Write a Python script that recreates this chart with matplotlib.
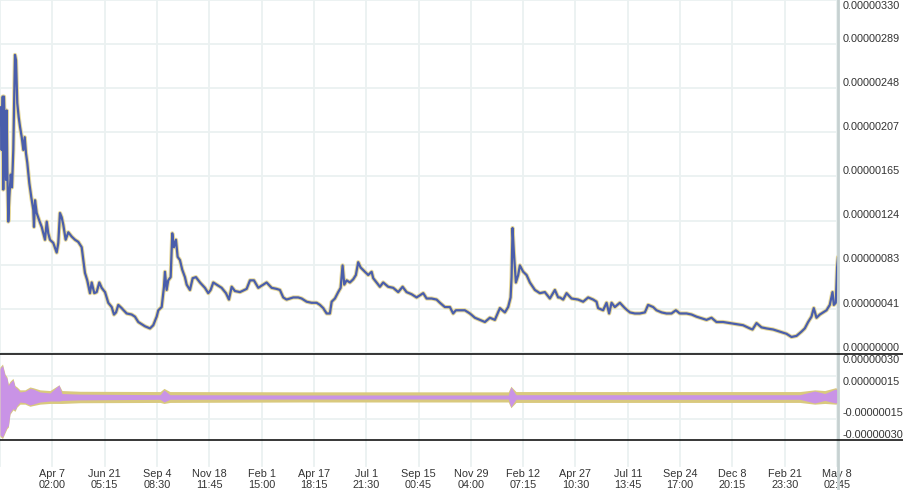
import datetime as dt
import matplotlib
matplotlib.use('Agg')
import matplotlib.pyplot as plt
from matplotlib.lines import Line2D

plt.rcParams['font.family'] = ['Liberation Sans', 'DejaVu Sans']

######################################################
# data
######################################################
START = dt.datetime(2018, 1, 21, 22, 45)
STEP = dt.timedelta(days=75, hours=3, minutes=15)

# price: days since START, value in 1e-8
PRICE_DAYS = [
    1.0, 2.4, 3.9, 4.7, 5.7, 7.2, 8.6, 9.6, 10.5, 11.9,
    13.4, 15.4, 17.2, 19.1, 21.5, 23.0, 24.8, 26.8, 28.7, 31.2,
    33.5, 35.5, 37.3, 39.2, 42.1, 44.9, 47.8, 48.8, 50.3, 52.7,
    56.4, 59.9, 64.6, 67.1, 69.3, 71.8, 76.5, 81.4, 83.7, 86.1,
    88.6, 90.9, 94.3, 98.1, 102.9, 107.7, 112.4, 117.3, 119.6, 122.0,
    125.3, 129.2, 131.7, 135.4, 138.8, 142.6, 146.0, 150.8, 155.5, 160.4,
    163.7, 166.6, 169.9, 174.7, 181.9, 189.1, 193.8, 198.6, 201.0, 208.2,
    215.4, 220.1, 225.0, 227.3, 232.2, 235.5, 236.9, 239.3, 241.6, 245.1,
    247.4, 249.8, 252.7, 255.1, 258.4, 261.7, 265.6, 268.1, 272.8, 276.7,
    281.4, 287.2, 294.3, 299.1, 302.5, 306.3, 311.1, 318.3, 324.5, 328.8,
    332.7, 337.4, 344.6, 354.2, 359.0, 364.7, 370.9, 378.0, 382.9, 390.1,
    397.3, 402.0, 406.8, 411.6, 416.4, 421.1, 428.3, 433.2, 440.4, 447.5,
    454.7, 459.5, 464.2, 469.1, 473.8, 476.3, 481.0, 485.7, 489.2, 492.0,
    494.4, 497.8, 502.5, 507.3, 511.1, 514.4, 517.9, 524.1, 528.8, 533.7,
    536.0, 540.9, 545.6, 550.3, 557.5, 564.7, 571.9, 578.2, 583.9, 591.1,
    598.3, 603.0, 607.8, 612.7, 619.8, 627.0, 631.8, 638.9, 646.1,
    650.8, 654.7, 660.5, 667.6, 674.8, 682.0, 689.2, 696.4, 703.5, 710.7,
    717.9, 725.1, 729.8, 733.3, 734.7, 736.1, 738.0, 740.9, 744.2, 746.6,
    751.4, 756.2, 761.0, 768.2, 775.3, 782.5, 789.7, 796.9, 801.6, 804.0,
    808.8, 813.7, 820.8, 830.3, 837.5, 844.7, 851.9, 856.7, 859.0, 866.2,
    871.1, 874.8, 878.3, 883.0, 890.2, 897.4, 904.6, 911.7, 918.9, 926.1,
    930.8, 938.0, 942.9, 950.1, 957.2, 964.4, 970.6, 976.3, 986.0, 993.2,
    1000.3, 1005.1, 1014.7, 1021.8, 1029.0, 1038.5, 1048.1, 1057.7, 1067.2, 1076.9,
    1080.7, 1086.5, 1093.6, 1100.8, 1110.3, 1119.9, 1129.5, 1136.7, 1143.9, 1151.1,
    1155.8, 1160.6, 1165.4, 1168.7, 1172.6, 1177.4, 1182.1, 1187.0, 1191.7, 1195.6,
    1197.5, 1200.3, 1202.2, 1203.4]
PRICE_E8 = [
    230, 190, 240, 153, 240, 199, 162, 227, 174, 123,
    146, 167, 155, 190, 279, 274, 234, 221, 212, 202,
    190, 202, 187, 178, 159, 146, 134, 118, 143, 131,
    124, 118, 106, 123, 112, 106, 103, 94, 103, 131,
    127, 120, 106, 113, 109, 106, 104, 99, 87, 75,
    68, 56, 66, 56, 57, 66, 61, 57, 47, 43,
    36, 38, 45, 42, 37, 36, 34, 29, 28, 25,
    23, 26, 34, 40, 43, 62, 76, 59, 68, 71,
    112, 99, 106, 90, 87, 78, 71, 64, 59, 70,
    71, 66, 61, 56, 59, 66, 64, 61, 56, 50,
    62, 58, 57, 60, 68, 68, 61, 64, 66, 61,
    60, 59, 52, 50, 51, 52, 52, 51, 48, 47,
    47, 45, 42, 37, 37, 48, 51, 57, 61, 82,
    64, 68, 66, 69, 73, 85, 80, 76, 73, 76,
    70, 66, 62, 66, 62, 61, 57, 62, 57, 55,
    52, 54, 56, 51, 51, 50, 47, 43, 43,
    37, 40, 40, 40, 37, 33, 31, 29, 33, 31,
    42, 38, 43, 52, 71, 117, 94, 66, 73, 82,
    76, 73, 66, 59, 56, 57, 51, 59, 52, 52,
    50, 56, 51, 50, 48, 52, 50, 48, 42, 40,
    47, 37, 47, 43, 47, 42, 38, 37, 37, 38,
    45, 43, 40, 38, 37, 37, 40, 37, 37, 36,
    34, 33, 31, 33, 29, 29, 28, 27, 26, 23,
    22, 28, 24, 23, 22, 20, 18, 15, 16, 20,
    23, 29, 34, 42, 33, 36, 38, 40, 45, 57,
    45, 47, 80, 89]

# oscillator envelopes (1e-8)
OSC_DAYS = [0, 3.6, 7.2, 10, 12, 14.4, 18.7, 21.5, 24.4, 28.7,
            35.9, 43, 47.4, 57.4, 71.8, 84.7, 89, 115, 230, 235.5,
            244, 431, 730, 733.7, 741, 1148.6, 1170, 1184.5, 1200, 1203.4]
PURPLE_HI = [20, 22, 15, 13, 8, 10, 12, 7, 6, 3.5,
             4, 6, 5.6, 3.5, 2.8, 8.4, 2.4, 2.0, 1.6, 5,
             1.6, 1.4, 1.4, 7, 1.6, 1.6, 4.2, 2.4, 5.6, 4.2]
PURPLE_LO = [-26.5, -28, -24, -21, -20, -11, -8, -9, -6, -3.5,
             -4, -5.6, -5, -3.5, -2.8, -2.8, -2.4, -2.0, -1.6, -3.5,
             -1.6, -1.4, -1.4, -7, -1.6, -1.6, -4.2, -2.4, -4.2, -3.5]
YELLOW_HI = [21, 23, 16, 14, 9, 11, 13, 8, 7, 5,
             5, 7, 6.5, 5, 4.5, 8.5, 4.5, 4, 3.8, 6,
             3.8, 3.6, 3.6, 7.5, 3.8, 3.8, 5, 4.5, 6.5, 5.5]
YELLOW_LO = [-27.5, -29, -25, -22, -21, -12, -9, -10, -7, -5,
             -5, -6.5, -6, -5, -4.5, -4.5, -4.5, -4, -3.8, -4.5,
             -3.8, -3.5, -3.5, -7.5, -3.8, -3.8, -5, -4.5, -5, -4.5]

MAIN_TICKS_E8 = [0, 41.3, 82.6, 123.9, 165.2, 206.5, 247.8, 289.1, 330.4]
MAIN_LABELS = ['0.00000000', '0.00000041', '0.00000083', '0.00000124', '0.00000165',
               '0.00000207', '0.00000248', '0.00000289', '0.00000330']
LOW_TICKS_E8 = [30, 15, -15, -30]
LOW_LABELS = ['0.00000030', '0.00000015', '-0.00000015', '-0.00000030']

XDATES = ['Apr 7', 'Jun 21', 'Sep 4', 'Nov 18', 'Feb 1', 'Apr 17', 'Jul 1', 'Sep 15',
          'Nov 29', 'Feb 12', 'Apr 27', 'Jul 11', 'Sep 24', 'Dec 8', 'Feb 21', 'May 8']
XTIMES = ['02:00', '05:15', '08:30', '11:45', '15:00', '18:15', '21:30', '00:45',
          '04:00', '07:15', '10:30', '13:45', '17:00', '20:15', '23:30', '02:45']

######################################################
# plot
######################################################
BLUE = '#4a5eab'
YELLOW = '#e6d89a'
YELLOW2 = '#d9c97e'
PURPLE = '#c993e6'
GRID = '#ebf1f1'
TXT = '#333333'
FS = 7.8

W, H = 904, 490
def fx(px):
    return px / W
def fy(py):
    return 1 - py / H

def to_dates(days):
    return [START + dt.timedelta(days=d) for d in days]

x_lo = START
x_hi = START + dt.timedelta(days=1203.5)
ticks = [START + k * STEP for k in range(17)]

fig = plt.figure(figsize=(W / 100, H / 100), dpi=100)
fig.patch.set_facecolor('white')

# background axes for the vertical grid
bg = fig.add_axes([0, 0, fx(838), 1])
bg.set_xlim(x_lo, x_hi)
bg.set_ylim(0, 1)
bg.axis('off')
for t in ticks:
    bg.plot([t, t], [fy(466), 1], color=GRID, lw=1.3, zorder=0)

# main price panel
ax = fig.add_axes([0, fy(354), fx(838), 354 / H])
ax.set_facecolor('none')
ax.set_xlim(x_lo, x_hi)
ax.set_ylim(-0.94e-8, 330.4e-8)
ax.set_yticks([v * 1e-8 for v in MAIN_TICKS_E8])
ax.set_xticks([])
ax.yaxis.grid(True, color=GRID, lw=1.3)
ax.tick_params(length=0, labelleft=False)
for s in ax.spines.values():
    s.set_visible(False)

pd_ = to_dates(PRICE_DAYS)
pv = [v * 1e-8 for v in PRICE_E8]
ax.plot(pd_, pv, color=YELLOW, lw=3.0, solid_joinstyle='round', zorder=3)
ax.plot(pd_, pv, color=BLUE, lw=1.6, solid_joinstyle='round', zorder=4)

for v, lab in zip(MAIN_TICKS_E8, MAIN_LABELS):
    if lab == '0.00000330':
        off = -6.8
    else:
        off = 1.7
    ax.annotate(lab, xy=(1, v * 1e-8), xycoords=('axes fraction', 'data'),
                xytext=(3.6, off), textcoords='offset points', va='baseline',
                ha='left', fontsize=FS, color=TXT, annotation_clip=False)

# oscillator panel
lo = fig.add_axes([0, fy(440), fx(838), 86 / H])
lo.set_facecolor('none')
lo.set_xlim(x_lo, x_hi)
lo.set_ylim(-30e-8, 30e-8)
lo.set_yticks([-15e-8, 15e-8])
lo.set_xticks([])
lo.yaxis.grid(True, color=GRID, lw=1.3)
lo.tick_params(length=0, labelleft=False)
for s in lo.spines.values():
    s.set_visible(False)

od = to_dates(OSC_DAYS)
lo.fill_between(od, [v * 1e-8 for v in YELLOW_LO], [v * 1e-8 for v in YELLOW_HI],
                color=YELLOW2, lw=0, zorder=3)
lo.fill_between(od, [v * 1e-8 for v in PURPLE_LO], [v * 1e-8 for v in PURPLE_HI],
                color=PURPLE, lw=0, zorder=4)

for v, lab in zip(LOW_TICKS_E8, LOW_LABELS):
    off = -6.7 if v > 0 else 1.7
    lo.annotate(lab, xy=(1, v * 1e-8), xycoords=('axes fraction', 'data'),
                xytext=(3.6, off), textcoords='offset points', va='baseline',
                ha='left', fontsize=FS, color=TXT, annotation_clip=False)

# x labels
for t, d, h in zip(ticks[1:], XDATES, XTIMES):
    bg.text(t, fy(477), d, ha='center', va='baseline', fontsize=FS, color=TXT)
    bg.text(t, fy(488), h, ha='center', va='baseline', fontsize=FS, color=TXT)

# panel separators and price axis line
fig.add_artist(Line2D([fx(838), fx(838)], [0, 1], color='#c6d1d1', lw=2))
fig.add_artist(Line2D([0, 1], [fy(354), fy(354)], color='black', lw=1.1))
fig.add_artist(Line2D([0, 1], [fy(440), fy(440)], color='black', lw=1.1))

fig.savefig('out.png', dpi=100)
